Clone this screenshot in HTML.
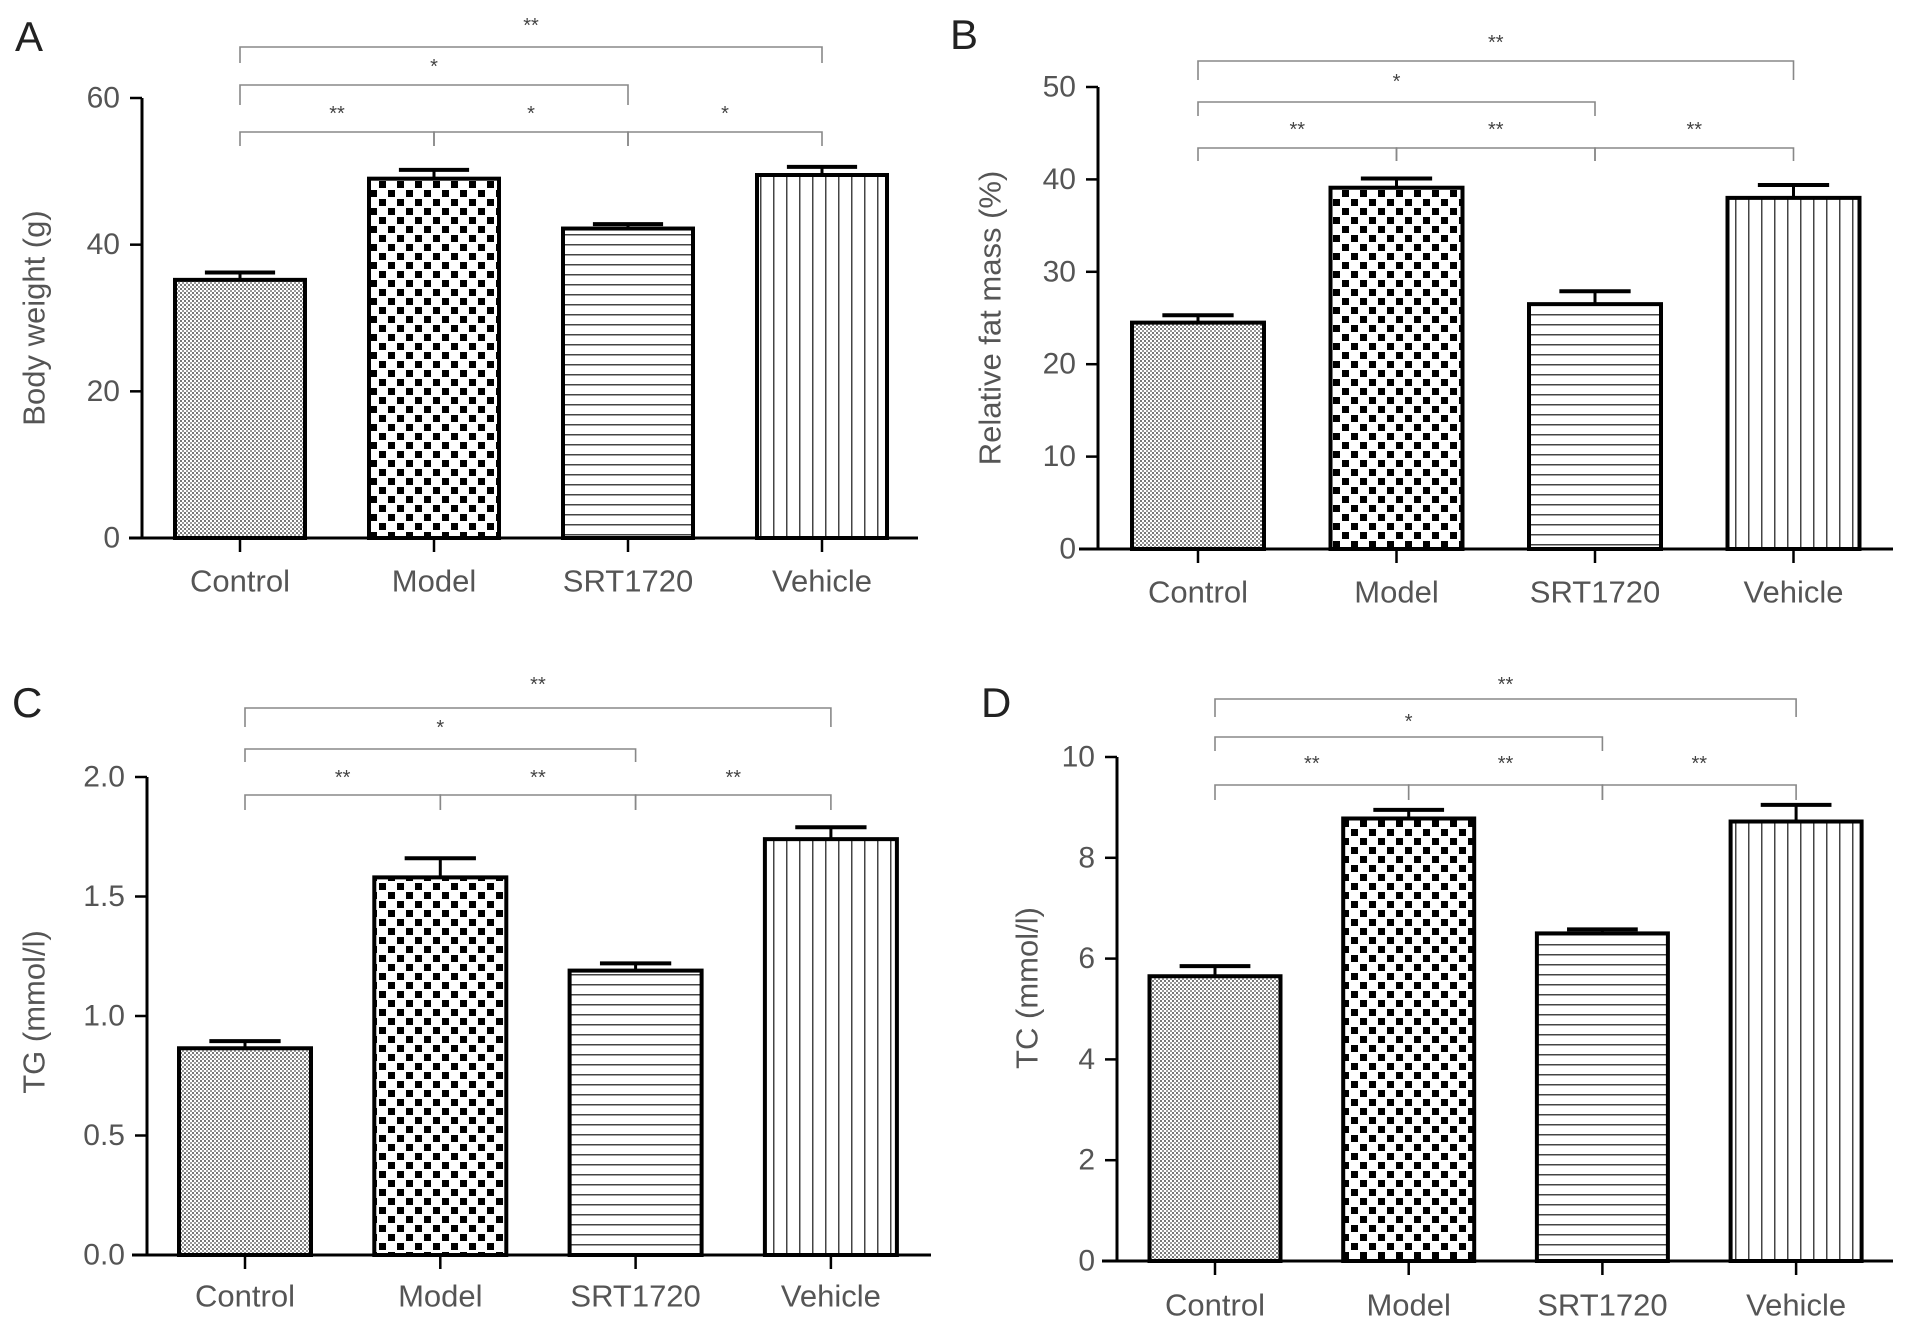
<!DOCTYPE html>
<html><head><meta charset="utf-8"><style>
html,body{margin:0;padding:0;background:#fff;}
svg{display:block;font-family:"Liberation Sans",Arial,sans-serif;}
</style></head><body>
<svg id="fig" width="1913" height="1330" viewBox="0 0 1913 1330" xmlns="http://www.w3.org/2000/svg">
<defs>
<pattern id="pControl" width="4" height="4" patternUnits="userSpaceOnUse"><rect width="4" height="4" fill="#fff"/><rect width="2" height="2" fill="#777"/><rect x="2" y="2" width="2" height="2" fill="#999"/></pattern>
<pattern id="pModel" width="18" height="18" patternUnits="userSpaceOnUse"><rect width="18" height="18" fill="#fff"/><rect x="1" y="1" width="7" height="7" fill="#000"/><rect x="10" y="10" width="7" height="7" fill="#000"/></pattern>
<pattern id="pSRT" width="10" height="10" patternUnits="userSpaceOnUse"><rect width="10" height="10" fill="#fff"/><rect y="4" width="10" height="1.5" fill="#444"/></pattern>
<pattern id="pVeh" width="13" height="13" patternUnits="userSpaceOnUse"><rect width="13" height="13" fill="#fff"/><rect x="6" width="1.5" height="13" fill="#444"/></pattern>
</defs>
</svg>
<script>
const categories = ["Control","Model","SRT1720","Vehicle"];
const valuesA = [35.2, 49.0, 42.2, 49.5];
const errorsA = [1.0, 1.2, 0.6, 1.1];
const ticksA = [0, 20, 40, 60];
const valuesB = [24.5, 39.1, 26.5, 38.0];
const errorsB = [0.8, 1.0, 1.4, 1.4];
const ticksB = [0, 10, 20, 30, 40, 50];
const valuesC = [0.865, 1.58, 1.19, 1.74];
const errorsC = [0.03, 0.08, 0.03, 0.05];
const ticksC = [0, 0.5, 1.0, 1.5, 2.0];
const tickLabelsC = ["0.0","0.5","1.0","1.5","2.0"];
const valuesD = [5.65, 8.78, 6.5, 8.72];
const errorsD = [0.2, 0.17, 0.08, 0.33];
const ticksD = [0, 2, 4, 6, 8, 10];
// significance labels: [i, j, label]
const sigA = [[0,3,"**"],[0,2,"*"],[0,1,"**"],[1,2,"*"],[2,3,"*"]];
const sigB = [[0,3,"**"],[0,2,"*"],[0,1,"**"],[1,2,"**"],[2,3,"**"]];
const sigC = [[0,3,"**"],[0,2,"*"],[0,1,"**"],[1,2,"**"],[2,3,"**"]];
const sigD = [[0,3,"**"],[0,2,"*"],[0,1,"**"],[1,2,"**"],[2,3,"**"]];

const fills = ["url(#pControl)","url(#pModel)","url(#pSRT)","url(#pVeh)"];
const svg = document.getElementById('fig');
const NS = "http://www.w3.org/2000/svg";
function mk(tag, attrs, parent){
  const e = document.createElementNS(NS, tag);
  for (const k in attrs) e.setAttribute(k, attrs[k]);
  (parent||svg).appendChild(e);
  return e;
}

const panels = [
 {id:"a", letter:"A", lx:15, ly:51, title:"Body weight (g)", tx:34, ty:318,
  axisX:142, axisL:129, axisR:918, y0:538, yTop:98, max:60, c0:240, step:194, bw:130, labY:581,
  vals:valuesA, errs:errorsA, ticks:ticksA, tlabels:null, sig:sigA,
  rows:[[47,63,26],[85,105,67],[132,146,114]]},
 {id:"b", letter:"B", lx:950, ly:49, title:"Relative fat mass (%)", tx:990, ty:318,
  axisX:1098, axisL:1079, axisR:1893, y0:549, yTop:87, max:50, c0:1198, step:198.5, bw:132, labY:592,
  vals:valuesB, errs:errorsB, ticks:ticksB, tlabels:null, sig:sigB,
  rows:[[61,80,43],[102,116,82],[148,161,130]]},
 {id:"c", letter:"C", lx:12, ly:717, title:"TG (mmol/l)", tx:34, ty:1012,
  axisX:147, axisL:132, axisR:931, y0:1255, yTop:777, max:2.0, c0:245, step:195.3, bw:132, labY:1296,
  vals:valuesC, errs:errorsC, ticks:ticksC, tlabels:tickLabelsC, sig:sigC,
  rows:[[708,727,685],[749,762,728],[795,810,778]]},
 {id:"d", letter:"D", lx:981, ly:717, title:"TC (mmol/l)", tx:1027, ty:988,
  axisX:1117, axisL:1102, axisR:1893, y0:1261, yTop:757, max:10, c0:1215, step:193.7, bw:131, labY:1305,
  vals:valuesD, errs:errorsD, ticks:ticksD, tlabels:null, sig:sigD,
  rows:[[699,717,685],[737,751,722],[785,800,764]]}
];

panels.forEach(p=>{
  const g = mk('g',{});
  
  
  const yS = v => p.y0 - (v/p.max)*(p.y0-p.yTop);
  const xS = i => p.c0 + i*p.step;

  const L = mk('text',{x:p.lx,y:p.ly,'font-size':42,fill:'#222'},g);
  L.textContent = p.letter;
  
  

  const T = mk('text',{x:p.tx,y:p.ty,'font-size':31,fill:'#555','text-anchor':'middle','dominant-baseline':'central',transform:`rotate(-90 ${p.tx} ${p.ty})`},g);
  T.textContent = p.title;
  
  

  // bars
  p.vals.forEach((v,i)=>{
    const cx = xS(i), top = yS(v), et = yS(v+p.errs[i]);
    const stem = mk('line',{x1:cx,x2:cx,y1:top,y2:et,stroke:'#000','stroke-width':3},g);
    
    
    const cap = mk('line',{x1:cx-p.bw*0.27,x2:cx+p.bw*0.27,y1:et,y2:et,stroke:'#000','stroke-width':4},g);
    
    
    const r = mk('rect',{x:cx-p.bw/2,y:top,width:p.bw,height:p.y0-top,fill:fills[i],stroke:'#000','stroke-width':4},g);
    
    
    const tk = mk('line',{x1:cx,x2:cx,y1:p.y0,y2:p.y0+14,stroke:'#000','stroke-width':2.5},g);
    
    
    const lab = mk('text',{x:cx,y:p.labY,'font-size':31,fill:'#555','text-anchor':'middle','dominant-baseline':'central'},g);
    lab.textContent = categories[i];
    
    
  });

  // axes
  const ya = mk('line',{x1:p.axisX,x2:p.axisX,y1:p.yTop,y2:p.y0,stroke:'#000','stroke-width':3},g);
  
  
  const xa = mk('line',{x1:p.axisL,x2:p.axisR,y1:p.y0,y2:p.y0,stroke:'#000','stroke-width':3},g);
  
  
  p.ticks.forEach((t,k)=>{
    const y = yS(t);
    const tl = mk('line',{x1:p.axisX-12,x2:p.axisX,y1:y,y2:y,stroke:'#000','stroke-width':2.5},g);
    
    
    const tt = mk('text',{x:p.axisX-22,y:y,'font-size':30,fill:'#555','text-anchor':'end','dominant-baseline':'central'},g);
    tt.textContent = p.tlabels ? p.tlabels[k] : String(t);
    
    
  });

  // significance brackets
  p.sig.forEach((s,k)=>{
    const row = p.rows[Math.min(k,2)];
    const x1 = xS(s[0]), x2 = xS(s[1]);
    const br = mk('path',{d:`M${x1},${row[1]}V${row[0]}H${x2}V${row[1]}`,fill:'none',stroke:'#888','stroke-width':1.6},g);
    
    
    const st = mk('text',{x:(x1+x2)/2,y:row[2],'font-size':20,fill:'#444','text-anchor':'middle','dominant-baseline':'central'},g);
    st.textContent = s[2];
    
    
  });
});
</script>
</body></html>
